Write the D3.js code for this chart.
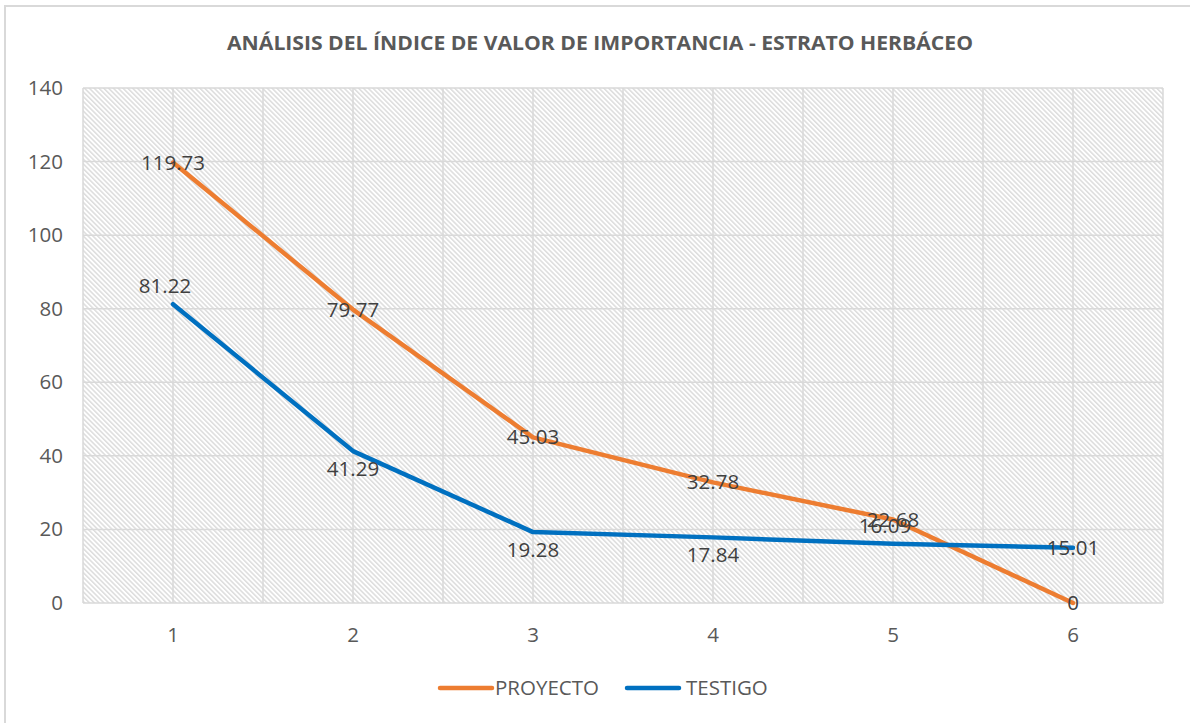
<!DOCTYPE html>
<html>
<head>
<meta charset="utf-8">
<script src="https://cdn.jsdelivr.net/npm/d3@7"></script>
<style>
  html, body { margin: 0; padding: 0; background: #fff; }
  svg { display: block; }
</style>
</head>
<body>
<svg id="chart" width="1190" height="723"></svg>
<script>
// Índice de valor de importancia por especie (estrato herbáceo)
const categories = ["1", "2", "3", "4", "5", "6"];
const proyecto = [119.73, 79.77, 45.03, 32.78, 22.68, 0];
const testigo = [81.22, 41.29, 19.28, 17.84, 16.09, 15.01];
const yTicks = [0, 20, 40, 60, 80, 100, 120, 140];
const seriesNames = ["PROYECTO", "TESTIGO"];
const seriesColors = ["#ED7D31", "#0070C0"];
// label placement per point: "c" centred on the point, "a" above, "b" below
const proyectoPos = ["c", "c", "c", "c", "c", "c"];
const testigoPos = ["a", "b", "b", "b", "a", "c"];

const FONT = "'Open Sans', 'Noto Sans', sans-serif";
const FS = 20.5;
const svg = d3.select("#chart");

const margin = { left: 83, right: 1163, top: 88, bottom: 603 };

const x = d3.scaleBand().domain(categories).range([margin.left, margin.right]);
const xc = d => x(d) + x.bandwidth() / 2;
const y = d3.scaleLinear().domain([0, 140]).range([margin.bottom, margin.top]);

// chart frame
svg.append("rect")
  .attr("x", 5).attr("y", 6).attr("width", 1200).attr("height", 730)
  .attr("fill", "#fff").attr("stroke", "#d9d9d9").attr("stroke-width", 2);

// hatched plot background
const defs = svg.append("defs");
const pat = defs.append("pattern")
  .attr("id", "hatch")
  .attr("patternUnits", "userSpaceOnUse")
  .attr("width", 3.4).attr("height", 10)
  .attr("patternTransform", "rotate(-45)");
pat.append("rect").attr("width", 3.4).attr("height", 10).attr("fill", "#fff");
pat.append("line")
  .attr("x1", 0.8).attr("y1", 0).attr("x2", 0.8).attr("y2", 10)
  .attr("stroke", "#d0d0d0").attr("stroke-width", 1.1);

svg.append("rect")
  .attr("x", margin.left).attr("y", margin.top)
  .attr("width", margin.right - margin.left).attr("height", margin.bottom - margin.top)
  .attr("fill", "url(#hatch)");

// gridlines
const grid = svg.append("g").attr("stroke", "#d9d9d9").attr("stroke-width", 1.5);
yTicks.forEach(t => {
  grid.append("line")
    .attr("x1", margin.left).attr("x2", margin.right)
    .attr("y1", y(t)).attr("y2", y(t));
});
// vertical gridlines at every category centre and boundary
const vx = [];
categories.forEach(c => { vx.push(x(c)); vx.push(xc(c)); });
vx.push(margin.right);
vx.forEach(v => {
  grid.append("line")
    .attr("x1", v).attr("x2", v)
    .attr("y1", margin.top).attr("y2", margin.bottom);
});

// axes
const yAxis = svg.append("g")
  .attr("transform", `translate(${margin.left},0)`)
  .call(d3.axisLeft(y).tickValues(yTicks).tickSize(0).tickPadding(20));
const xAxis = svg.append("g")
  .attr("transform", `translate(0,${margin.bottom})`)
  .call(d3.axisBottom(x).tickSize(0).tickPadding(24));
[yAxis, xAxis].forEach(a => {
  a.select(".domain").remove();
  a.selectAll("text")
    .attr("font-family", FONT).attr("font-size", FS).attr("fill", "#595959");
});

// title
svg.append("text")
  .attr("x", 600).attr("y", 50)
  .attr("text-anchor", "middle")
  .attr("font-family", FONT).attr("font-weight", "bold").attr("font-size", 19)
  .attr("fill", "#595959")
  .attr("textLength", 746).attr("lengthAdjust", "spacingAndGlyphs")
  .text("ANÁLISIS DEL ÍNDICE DE VALOR DE IMPORTANCIA - ESTRATO HERBÁCEO");

// series lines
const line = d3.line().x((d, i) => xc(categories[i])).y(d => y(d));
const allSeries = [proyecto, testigo];
allSeries.forEach((vals, s) => {
  svg.append("path")
    .datum(vals)
    .attr("d", line)
    .attr("fill", "none")
    .attr("stroke", seriesColors[s])
    .attr("stroke-width", 4.5)
    .attr("stroke-linejoin", "round")
    .attr("stroke-linecap", "round");
});

// data labels
const positions = [proyectoPos, testigoPos];
allSeries.forEach((vals, s) => {
  vals.forEach((v, i) => {
    const p = positions[s][i];
    let dx = 0, dy = 7;
    if (p === "a") { dx = -8; dy = -11; }
    if (p === "b") { dx = 0; dy = 25; }
    svg.append("text")
      .attr("x", xc(categories[i]) + dx)
      .attr("y", y(v) + dy)
      .attr("text-anchor", "middle")
      .attr("font-family", FONT).attr("font-size", FS)
      .attr("fill", "#404040")
      .text(String(v));
  });
});

// legend
const legend = svg.append("g");
const legendItems = [
  { x: 440, tx: 495 },
  { x: 627, tx: 686 }
];
seriesNames.forEach((name, s) => {
  const it = legendItems[s];
  legend.append("line")
    .attr("x1", it.x).attr("x2", it.x + 52)
    .attr("y1", 688).attr("y2", 688)
    .attr("stroke", seriesColors[s]).attr("stroke-width", 4.5)
    .attr("stroke-linecap", "round");
  legend.append("text")
    .attr("x", it.tx).attr("y", 695)
    .attr("font-family", FONT).attr("font-size", FS)
    .attr("fill", "#595959")
    .text(name);
});
</script>
</body>
</html>
